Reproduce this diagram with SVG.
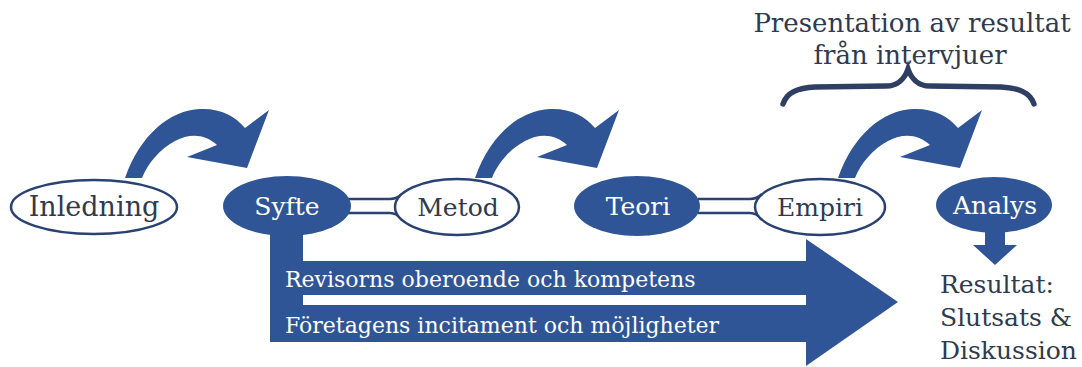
<svg xmlns="http://www.w3.org/2000/svg" width="1082" height="367" viewBox="0 0 1082 367">
<defs>
<style>
.lbl{font-family:"DejaVu Serif","Liberation Serif",serif;font-size:25px;text-anchor:middle}
.dark{fill:#2f3a4f}
.light{fill:#ffffff}
.open{fill:#ffffff;stroke:#2a4272;stroke-width:2.5}
.solid{fill:#2f5597}
.tube{fill:none;stroke:#2a4272;stroke-width:2.5}
.band{font-family:"DejaVu Serif","Liberation Serif",serif;font-size:22px;fill:#ffffff}
.res{font-family:"DejaVu Serif","Liberation Serif",serif;font-size:25px;fill:#2f3a4f}
</style>
<path id="curve" d="M125,178 C140,135 170,110 200,109 C220,108 235,116 245,128 L269,110 L247,168 L187,157 L217,145 C205,134 190,133 175,141 C160,149 148,163 142,178 Z"/>
</defs>
<rect width="1082" height="367" fill="#ffffff"/>

<g id="connectors">
  <use href="#curve" class="solid"/>
  <use href="#curve" class="solid" transform="translate(350,0)"/>
  <use href="#curve" class="solid" transform="translate(713,0)"/>
  <path class="solid" d="M270,225 L303,225 L303,261 L806,261 L806,239 L898,302 L806,366 L806,342 L270,342 Z"/>
  <rect x="303" y="295" width="503" height="10" fill="#ffffff"/>
  <path class="solid" d="M985,228 L1005,228 L1005,245 L1017,245 L995,265 L973,245 L985,245 Z"/>
  <path class="tube" d="M348,199 L390,199 Q397,199 402,194 M348,213 L390,213 Q397,213 402,220"/>
  <path class="tube" d="M698,199 L750,199 Q757,199 762,194 M698,213 L750,213 Q757,213 762,220"/>
  <path fill="none" stroke="#2f3f63" stroke-width="5.5" stroke-linecap="round" d="M783,104 C787,92 798,88 815,87 L886,86 C898,86 905,78 908,69 C911,78 918,86 930,86 L1001,87 C1018,88 1030,92 1034,104"/>
</g>

<g id="inledning">
  <ellipse class="open" cx="94" cy="207" rx="83" ry="27"/>
  <text class="lbl dark" x="94" y="216" style="font-size:27px">Inledning</text>
</g>
<g id="syfte">
  <ellipse class="solid" cx="287" cy="206" rx="64" ry="30"/>
  <text class="lbl light" x="287" y="215">Syfte</text>
</g>
<g id="metod">
  <ellipse class="open" cx="457" cy="207" rx="62" ry="28"/>
  <text class="lbl dark" x="458" y="216">Metod</text>
</g>
<g id="teori">
  <ellipse class="solid" cx="637" cy="206" rx="63" ry="30"/>
  <text class="lbl light" x="638" y="215">Teori</text>
</g>
<g id="empiri">
  <ellipse class="open" cx="820" cy="207" rx="65" ry="28"/>
  <text class="lbl dark" x="820" y="216">Empiri</text>
</g>
<g id="analys">
  <ellipse class="solid" cx="994" cy="205" rx="58" ry="28"/>
  <text class="lbl light" x="995" y="214">Analys</text>
</g>

<g id="band-labels">
  <text class="band" x="285" y="287">Revisorns oberoende och kompetens</text>
  <text class="band" x="285" y="333">Företagens incitament och möjligheter</text>
</g>

<g id="presentation">
  <text class="lbl dark" x="912" y="32" style="font-size:26px">Presentation av resultat</text>
  <text class="lbl dark" x="910" y="64" style="font-size:26px">från intervjuer</text>
</g>

<g id="resultat">
  <text class="res" x="940" y="293">Resultat:</text>
  <text class="res" x="940" y="326">Slutsats &amp;</text>
  <text class="res" x="940" y="359">Diskussion</text>
</g>
</svg>
